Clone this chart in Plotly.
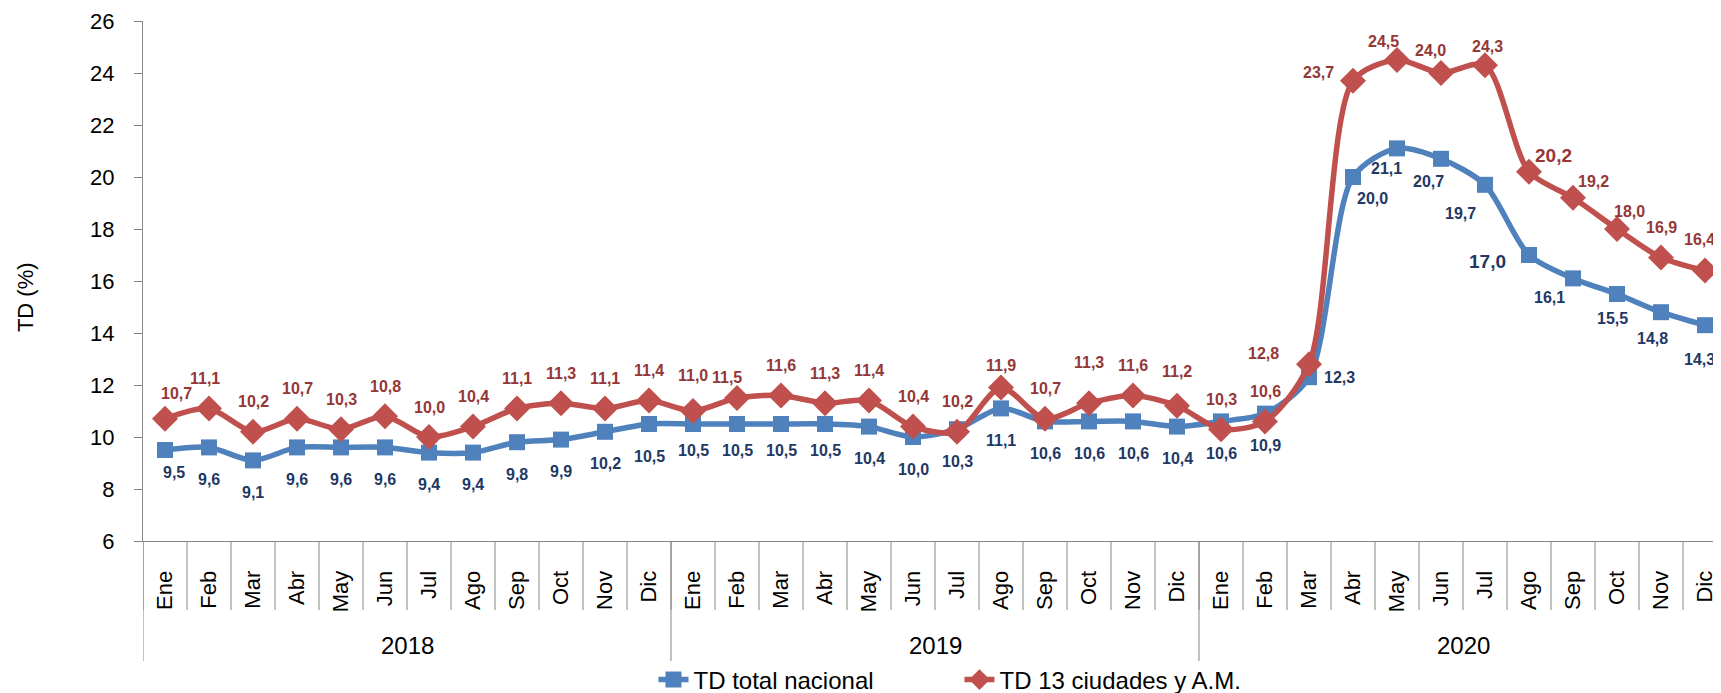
import plotly.graph_objects as go

# --- data ---
meses = ["Ene", "Feb", "Mar", "Abr", "May", "Jun", "Jul", "Ago", "Sep", "Oct", "Nov", "Dic"]
anios = ["2018", "2019", "2020"]

td_nacional = [
    9.5, 9.6, 9.1, 9.6, 9.6, 9.6, 9.4, 9.4, 9.8, 9.9, 10.2, 10.5,
    10.5, 10.5, 10.5, 10.5, 10.4, 10.0, 10.3, 11.1, 10.6, 10.6, 10.6, 10.4,
    10.6, 10.9, 12.3, 20.0, 21.1, 20.7, 19.7, 17.0, 16.1, 15.5, 14.8, 14.3,
]
td_13_ciudades = [
    10.7, 11.1, 10.2, 10.7, 10.3, 10.8, 10.0, 10.4, 11.1, 11.3, 11.1, 11.4,
    11.0, 11.5, 11.6, 11.3, 11.4, 10.4, 10.2, 11.9, 10.7, 11.3, 11.6, 11.2,
    10.3, 10.6, 12.8, 23.7, 24.5, 24.0, 24.3, 20.2, 19.2, 18.0, 16.9, 16.4,
]

# --- style ---
AZUL = "#4F81BD"
ROJO = "#C0504D"
AZUL_TXT = "#1F3864"
ROJO_TXT = "#953735"
GRIS = "#868686"
FONT = "Liberation Sans, Arial, sans-serif"

# the page body adds an 8px margin, so the figure is 8px smaller than the window
W, H = 1713, 685
L, T, B = 135, 13, 152

n = len(meses) * len(anios)
xs = list(range(n))
x_rango = [-0.5, -0.5 + (W - L) / 44]

# label offsets in px (dx, dy up), default + per point tweaks
off_rojo = {0: (11, 25), 1: (-4, 30), 12: (0, 36), 13: (-10, 21), 19: (0, 22), 21: (0, 41),
            23: (0, 34), 26: (-46, 11), 27: (-35, 8), 28: (-14, 19), 29: (-11, 23),
            30: (2, 19), 31: (24, 16), 32: (20, 16), 33: (12, 18), 35: (-6, 31)}
off_azul = {0: (9, -22), 12: (0, -26), 13: (0, -26), 14: (0, -26), 15: (0, -26),
            26: (30, 0), 27: (19, -21), 28: (-11, -20), 29: (-13, -23), 30: (-25, -29),
            31: (-42, -6), 32: (-24, -19), 33: (-5, -24), 34: (-9, -26), 35: (-6, -34)}
grandes = {31}

fig = go.Figure()
fig.add_trace(go.Scatter(
    x=xs, y=td_nacional, mode="lines+markers", name="TD total nacional",
    line=dict(color=AZUL, width=5.5, shape="spline", smoothing=0.8),
    marker=dict(symbol="square", size=16, color=AZUL),
))
fig.add_trace(go.Scatter(
    x=xs, y=td_13_ciudades, mode="lines+markers", name="TD 13 ciudades y A.M.",
    line=dict(color=ROJO, width=5.5, shape="spline", smoothing=0.8),
    marker=dict(symbol="diamond", size=20, color=ROJO),
))

anots = []
for serie, offs, dflt, col in [(td_nacional, off_azul, (0, -32), AZUL_TXT),
                               (td_13_ciudades, off_rojo, (0, 30), ROJO_TXT)]:
    for i, v in enumerate(serie):
        dx, dy = offs.get(i, dflt)
        anots.append(dict(
            x=i, y=v, xref="x", yref="y", text=f"{v:.1f}".replace(".", ","),
            showarrow=False, xshift=dx, yshift=dy,
            font=dict(family=FONT, size=19 if i in grandes else 16, color=col, weight="bold"),
        ))

# year labels
for k, a in enumerate(anios):
    anots.append(dict(x=k * 12 + 5.5, y=-0.2, xref="x", yref="paper", text=a,
                      xanchor="center", yanchor="middle", showarrow=False,
                      font=dict(family=FONT, size=24, color="black")))

# y title
anots.append(dict(x=-0.0748, y=0.469, xref="paper", yref="paper", text="TD (%)", textangle=-90,
                  xanchor="center", yanchor="middle", showarrow=False,
                  font=dict(family=FONT, size=22, color="black")))

# category separators
shapes = []
for k in range(n + 1):
    shapes.append(dict(type="line", xref="x", yref="paper", x0=k - 0.5, x1=k - 0.5,
                       y0=0, y1=-0.1327, line=dict(color=GRIS, width=1)))
for k in range(len(anios)):
    shapes.append(dict(type="line", xref="x", yref="paper", x0=k * 12 - 0.5, x1=k * 12 - 0.5,
                       y0=0, y1=-0.2308, line=dict(color=GRIS, width=1)))

fig.update_layout(
    width=W, height=H,
    margin=dict(l=L, r=0, t=T, b=B),
    plot_bgcolor="white", paper_bgcolor="white",
    font=dict(family=FONT, color="black"),
    annotations=anots, shapes=shapes,
    showlegend=True,
    legend=dict(orientation="h", x=0.3235, xanchor="left",
                yref="container", y=1 - 672 / H, yanchor="middle",
                font=dict(size=24), entrywidth=261, entrywidthmode="pixels",
                bgcolor="rgba(0,0,0,0)"),
)
fig.update_xaxes(
    range=x_rango, tickmode="array", tickvals=xs, ticktext=meses * len(anios),
    tickangle=-90, tickfont=dict(size=22), ticks="", ticklabelstandoff=20,
    showline=True, linecolor=GRIS, linewidth=1, showgrid=False, zeroline=False,
    automargin=False,
)
fig.update_yaxes(
    range=[6, 26], dtick=2, tickfont=dict(size=22), ticks="outside", ticklen=8,
    tickcolor=GRIS, showline=True, linecolor=GRIS, linewidth=1, showgrid=False,
    zeroline=False, ticklabelstandoff=15, automargin=False,
)

fig.write_html("out.html")
